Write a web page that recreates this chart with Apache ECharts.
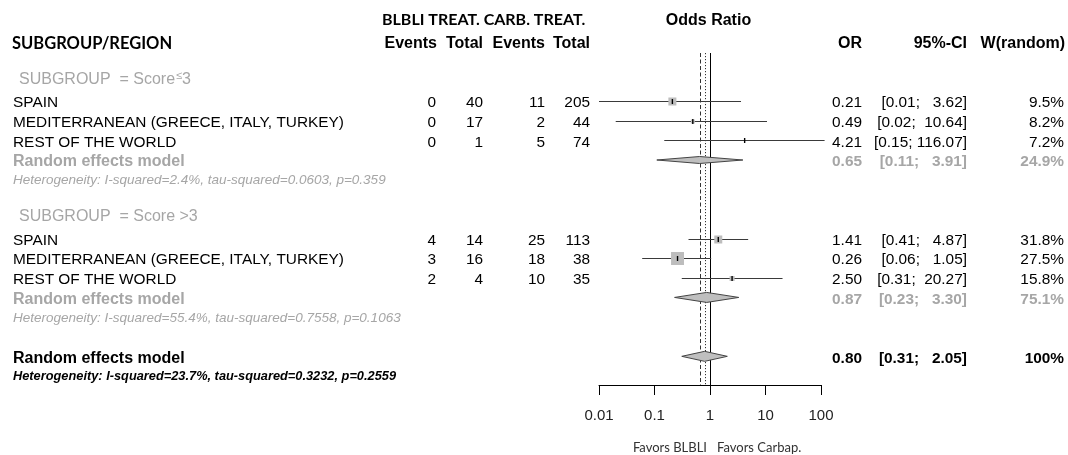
<!DOCTYPE html>
<html><head><meta charset="utf-8">
<script src="https://cdn.jsdelivr.net/npm/echarts@6/dist/echarts.min.js"></script>
<style>html,body{margin:0;padding:0;background:#fff}#c{width:1068px;height:455px}</style>
</head><body><div id="c"></div>
<script>
// ---------------- DATA ----------------
const subgroupTitles = ["SUBGROUP  = Score≤3", "SUBGROUP  = Score >3"];
const studyNames = ["SPAIN", "MEDITERRANEAN (GREECE, ITALY, TURKEY)", "REST OF THE WORLD"];
const eventsBLBLI = [[0, 0, 0], [4, 3, 2]];
const totalBLBLI  = [[40, 17, 1], [14, 16, 4]];
const eventsCarb  = [[11, 2, 5], [25, 18, 10]];
const totalCarb   = [[205, 44, 74], [113, 38, 35]];
const studyOR     = [[0.21, 0.49, 4.21], [1.41, 0.26, 2.50]];
const studyLower  = [[0.01, 0.02, 0.15], [0.41, 0.06, 0.31]];
const studyUpper  = [[3.62, 10.64, 116.07], [4.87, 1.05, 20.27]];
const studyWeight = [[9.5, 8.2, 7.2], [31.8, 27.5, 15.8]];
const subgroupOR    = [0.65, 0.87];
const subgroupLower = [0.11, 0.23];
const subgroupUpper = [3.91, 3.30];
const subgroupWeight = [24.9, 75.1];
const subgroupHet = [
  "Heterogeneity: I-squared=2.4%, tau-squared=0.0603, p=0.359",
  "Heterogeneity: I-squared=55.4%, tau-squared=0.7558, p=0.1063"
];
const overallLabel = "Random effects model";
const overallOR = 0.80, overallLower = 0.31, overallUpper = 2.05, overallWeight = 100;
const overallHet = "Heterogeneity: I-squared=23.7%, tau-squared=0.3232, p=0.2559";
const fixedLineOR = 0.67;   // dashed reference line
const randomLineOR = 0.80;  // dotted reference line
const nullLineOR = 1;
const xTickValues = [0.01, 0.1, 1, 10, 100];
const xTickLabels = ["0.01", "0.1", "1", "10", "100"];
const headerTop = ["BLBLI TREAT. CARB. TREAT.", "Odds Ratio"];
const headerCols = ["SUBGROUP/REGION", "Events", "Total", "Events", "Total", "OR", "95%-CI", "W(random)"];
const favorLabels = ["Favors BLBLI", "Favors Carbap."];

// ---------------- STYLE / LAYOUT ----------------
const ARIAL = "'Liberation Sans', Arial, sans-serif";
const NARROW = "'Liberation Sans Narrow', 'Lato', sans-serif";
const CAL = "'Lato', 'Carlito', sans-serif";
const GRAY = '#a6a6a6';
const BLACK = '#000';
const squareSidePx = [[8, 4, 0], [8, 13, 5]];
const diamondHeightPx = [7, 10, 10];
const colX = { name: 13, title: 19, eB: 436, tB: 483, eC: 545, tC: 590, or: 862, ci: 967, w: 1064 };

const fmt2 = v => v.toFixed(2);
const fmtCI = (lo, hi) => "[" + lo.toFixed(2) + "; " + hi.toFixed(2).padStart(6, " ") + "]";
const fmtW = w => (w === 100 ? "100" : w.toFixed(1)) + "%";

// rows
const textItems = [];
const studyMarks = [];
const diamonds = [];
function addText(row, x, align, text, font, color, dy, rich) {
  textItems.push({ row, x, align, text, font, color, dy: dy || 0, rich });
}
const fReg = '15.4px ' + ARIAL, fBold = 'bold 15.4px ' + ARIAL;
for (let g = 0; g < 2; g++) {
  const base = g * 7;
  addText(base - 1, colX.title, 'left', subgroupTitles[g].replace('≤', '{s|≤}'), '16px ' + ARIAL, GRAY, -2,
    { s: { fontSize: 11, fill: GRAY, fontFamily: ARIAL, verticalAlign: 'bottom', padding: [0, 0, 6, 1] } });
  for (let i = 0; i < 3; i++) {
    const r = base + i;
    addText(r, colX.name, 'left', studyNames[i], fReg, BLACK, 2);
    addText(r, colX.eB, 'right', String(eventsBLBLI[g][i]), fReg, BLACK, 2);
    addText(r, colX.tB, 'right', String(totalBLBLI[g][i]), fReg, BLACK, 2);
    addText(r, colX.eC, 'right', String(eventsCarb[g][i]), fReg, BLACK, 2);
    addText(r, colX.tC, 'right', String(totalCarb[g][i]), fReg, BLACK, 2);
    addText(r, colX.or, 'right', fmt2(studyOR[g][i]), fReg, BLACK, 2);
    addText(r, colX.ci, 'right', fmtCI(studyLower[g][i], studyUpper[g][i]), fReg, BLACK, 2);
    addText(r, colX.w, 'right', fmtW(studyWeight[g][i]), fReg, BLACK, 2);
    studyMarks.push({ value: [studyOR[g][i], r, studyLower[g][i], studyUpper[g][i]], side: squareSidePx[g][i] });
  }
  const rr = base + 3;
  addText(rr, colX.name, 'left', overallLabel, 'bold 16px ' + ARIAL, GRAY, 2);
  addText(rr, colX.or, 'right', fmt2(subgroupOR[g]), fBold, GRAY, 2);
  addText(rr, colX.ci, 'right', fmtCI(subgroupLower[g], subgroupUpper[g]), fBold, GRAY, 2);
  addText(rr, colX.w, 'right', fmtW(subgroupWeight[g]), fBold, GRAY, 2);
  diamonds.push({ value: [subgroupOR[g], rr, subgroupLower[g], subgroupUpper[g]], h: diamondHeightPx[g] });
  addText(base + 4, colX.name, 'left', subgroupHet[g], 'italic 13.5px ' + ARIAL, GRAY, 1);
}
addText(13, colX.name, 'left', overallLabel, 'bold 16px ' + ARIAL, BLACK, 2);
addText(13, colX.or, 'right', fmt2(overallOR), fBold, BLACK, 2);
addText(13, colX.ci, 'right', fmtCI(overallLower, overallUpper), fBold, BLACK, 2);
addText(13, colX.w, 'right', fmtW(overallWeight), fBold, BLACK, 2);
diamonds.push({ value: [overallOR, 13, overallLower, overallUpper], h: diamondHeightPx[2] });
addText(14, colX.name, 'left', overallHet, 'italic bold 12.8px ' + ARIAL, BLACK, 1);

const Y_MIN = -2.45, Y_MAX = 14.46;

const chart = echarts.init(document.getElementById('c'), null, { renderer: 'canvas' });
chart.setOption({
  animation: false,
  backgroundColor: '#fff',
  grid: { left: 599, right: 247, top: 53, bottom: 70, containLabel: false },
  xAxis: {
    type: 'log', logBase: 10, min: xTickValues[0], max: xTickValues[xTickValues.length - 1],
    axisLine: { show: true, onZero: false, lineStyle: { color: '#000', width: 1 } },
    axisTick: { show: true, inside: false, length: 10, lineStyle: { color: '#000', width: 1 } },
    minorTick: { show: false },
    splitLine: { show: false },
    axisLabel: {
      margin: 23, fontSize: 15, fontFamily: ARIAL, color: '#222',
      formatter: v => xTickLabels[Math.round(Math.log10(v)) + 2]
    }
  },
  yAxis: { type: 'value', inverse: true, min: Y_MIN, max: Y_MAX, show: false },
  series: [
    { // reference lines
      type: 'custom', silent: true, clip: false, z: 1,
      data: [[fixedLineOR, 0], [randomLineOR, 0], [nullLineOR, 0]],
      renderItem: (p, api) => {
        const top = api.coord([api.value(0), Y_MIN]);
        const bot = api.coord([api.value(0), Y_MAX]);
        const dashes = [[4, 2.5], [1.2, 1.8], null][p.dataIndex];
        return {
          type: 'line',
          shape: { x1: Math.round(top[0]) + 0.5, y1: top[1], x2: Math.round(top[0]) + 0.5, y2: bot[1] },
          style: { stroke: p.dataIndex === 2 ? '#000' : '#333', lineWidth: 1, lineDash: dashes }
        };
      }
    },
    { // study CIs + squares
      type: 'custom', silent: true, clip: false, z: 2,
      data: studyMarks.map(m => m.value),
      renderItem: (p, api) => {
        const c = api.coord([api.value(0), api.value(1)]);
        const lo = api.coord([api.value(2), api.value(1)]);
        const hi = api.coord([api.value(3), api.value(1)]);
        const s = studyMarks[p.dataIndex].side;
        const y = Math.round(c[1]) + 0.5;
        const kids = [
          { type: 'line', shape: { x1: lo[0], y1: y, x2: hi[0], y2: y }, style: { stroke: '#3a3a3a', lineWidth: 1.2 } }
        ];
        if (s > 0) kids.push({ type: 'rect', shape: { x: c[0] - s / 2, y: y - s / 2, width: s, height: s }, style: { fill: '#bdbdbd' } });
        kids.push({ type: 'line', shape: { x1: c[0], y1: y - 2.5, x2: c[0], y2: y + 2.5 }, style: { stroke: '#000', lineWidth: 1.4 } });
        return { type: 'group', children: kids };
      }
    },
    { // diamonds
      type: 'custom', silent: true, clip: false, z: 3,
      data: diamonds.map(d => d.value),
      renderItem: (p, api) => {
        const c = api.coord([api.value(0), api.value(1)]);
        const lo = api.coord([api.value(2), api.value(1)]);
        const hi = api.coord([api.value(3), api.value(1)]);
        const h = diamonds[p.dataIndex].h / 2;
        return {
          type: 'polygon',
          shape: { points: [[lo[0], c[1]], [c[0], c[1] - h], [hi[0], c[1]], [c[0], c[1] + h]] },
          style: { fill: '#bfbfbf', stroke: '#444', lineWidth: 1 }
        };
      }
    },
    { // table text
      type: 'custom', silent: true, clip: false, z: 5,
      data: textItems.map(t => [1, t.row]),
      renderItem: (p, api) => {
        const it = textItems[p.dataIndex];
        const y = api.coord([1, it.row])[1] + it.dy;
        const style = { text: it.text, font: it.font, fill: it.color, align: it.align, verticalAlign: 'middle' };
        if (it.rich) style.rich = it.rich;
        return { type: 'text', x: it.x, y: y, style };
      }
    }
  ]
});

// header & footer texts (positioned relative to axis where relevant)
const x1 = chart.convertToPixel({ xAxisIndex: 0 }, nullLineOR);
function gt(text, x, y, align, font, color) {
  return { type: 'text', x, y, silent: true, style: { text, x: 0, y: 0, align, verticalAlign: 'middle', font, fill: color || '#000' } };
}
chart.setOption({
  graphic: [
    gt(headerTop[0], 382, 20, 'left', 'bold 16px ' + NARROW),
    gt(headerTop[1], x1 - 1.5, 21, 'center', 'bold 16px ' + ARIAL),
    gt(headerCols[0], 12, 44, 'left', 'bold 16.5px ' + CAL),
    gt(headerCols[1], 437, 44, 'right', 'bold 16px ' + ARIAL),
    gt(headerCols[2], 483, 44, 'right', 'bold 16px ' + ARIAL),
    gt(headerCols[3], 545, 44, 'right', 'bold 16px ' + ARIAL),
    gt(headerCols[4], 590, 44, 'right', 'bold 16px ' + ARIAL),
    gt(headerCols[5], 862, 44, 'right', 'bold 16px ' + ARIAL),
    gt(headerCols[6], 967, 44, 'right', 'bold 16px ' + ARIAL),
    gt(headerCols[7], 1065, 44, 'right', 'bold 16px ' + ARIAL),
    gt(favorLabels[0], x1 - 3, 448, 'right', '13px ' + CAL, '#333'),
    gt(favorLabels[1], x1 + 7, 448, 'left', '13px ' + CAL, '#333')
  ]
});
</script>
</body></html>
